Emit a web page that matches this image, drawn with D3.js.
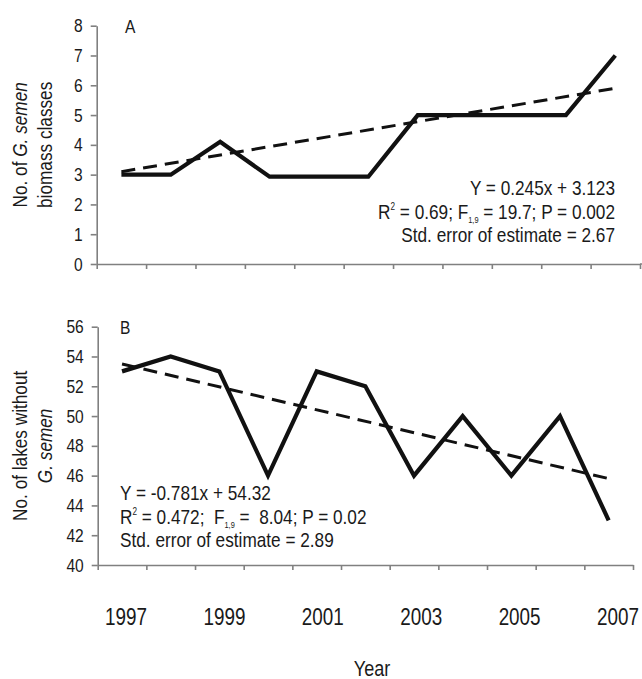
<!DOCTYPE html>
<html>
<head>
<meta charset="utf-8">
<script src="https://cdn.jsdelivr.net/npm/d3@7"></script>
<style>
  html, body { margin: 0; padding: 0; background: #fff; }
  svg { display: block; }
  text { font-family: 'Liberation Sans', Arial, sans-serif; fill: #1a1a1a; white-space: pre; }
</style>
</head>
<body>
<svg id="chart" width="642" height="679"></svg>
<script>
// ---------- data ----------
const years = [1997, 1998, 1999, 2000, 2001, 2002, 2003, 2004, 2005, 2006, 2007];
const biomassClasses = [3, 3, 4.1, 2.93, 2.93, 2.93, 5, 5, 5, 5, 7];
const biomassTrend = [3.1, 5.9];          // fitted values at 1997 and 2007
const lakesWithout = [53, 54, 53, 46, 53, 52, 46, 50, 46, 50, 43];
const lakesTrend = [53.5, 45.8];          // fitted values at 1997 and 2007
const yTicksA = [0, 1, 2, 3, 4, 5, 6, 7, 8];
const yTicksB = [40, 42, 44, 46, 48, 50, 52, 54, 56];
const yearLabels = [1997, 1999, 2001, 2003, 2005, 2007];
const statsA = ["Y = 0.245x + 3.123", "R2 = 0.69; F1,9 = 19.7; P = 0.002", "Std. error of estimate = 2.67"];
const statsB = ["Y = -0.781x + 54.32", "R2 = 0.472;  F1,9 =  8.04; P = 0.02", "Std. error of estimate = 2.89"];

const NARROW = 0.82;   // condensed look (Arial Narrow-like)
const svg = d3.select("#chart");
const AXIS = "#808080";

// text placed in a horizontally-condensed group
function narrowText(parent, x, y, extra) {
  return parent.append("g")
    .attr("transform", `translate(${x},${y})${extra || ""} scale(${NARROW},1)`)
    .append("text");
}

function styleAxis(g) {
  g.select(".domain").attr("stroke", AXIS).attr("stroke-width", 1.6);
  g.selectAll(".tick line").attr("stroke", AXIS).attr("stroke-width", 1.6);
  g.selectAll(".tick text").attr("font-size", 19).attr("fill", "#1a1a1a")
    .attr("font-family", "'Liberation Sans', Arial, sans-serif")
    .each(function () {
      const t = d3.select(this);
      const x = +t.attr("x") || 0;
      t.attr("x", x / NARROW).attr("transform", `scale(${NARROW},1)`);
    });
}

function panel(cfg) {
  const x = d3.scalePoint().domain(years).range([cfg.x0, cfg.x1]).padding(0.5);
  const xEdge = d3.scaleLinear().domain([0, years.length]).range([cfg.x0, cfg.x1]);
  const y = d3.scaleLinear().domain(cfg.yDomain).range([cfg.yBottom, cfg.yTop]);
  const g = svg.append("g");

  // x axis (category boundaries)
  g.append("g").attr("transform", `translate(0,${cfg.yBottom})`)
    .call(d3.axisBottom(xEdge).tickValues(d3.range(years.length + 1)).tickFormat("").tickSize(5).tickSizeOuter(0))
    .call(styleAxis);
  if (cfg.axisExtend) {
    g.append("line").attr("x1", cfg.x1).attr("x2", cfg.axisExtend)
      .attr("y1", cfg.yBottom).attr("y2", cfg.yBottom)
      .attr("stroke", AXIS).attr("stroke-width", 1.6);
  }
  // y axis
  g.append("g").attr("transform", `translate(${cfg.x0},0)`)
    .call(d3.axisLeft(y).tickValues(cfg.yTicks).tickSize(6).tickPadding(8).tickSizeOuter(0))
    .call(styleAxis);

  // trend line (dashed)
  const trendX = [years[0], years[years.length - 1]];
  g.append("path")
    .datum(trendX.map((yr, i) => [yr, cfg.trend[i]]))
    .attr("fill", "none").attr("stroke", "#111").attr("stroke-width", 3)
    .attr("stroke-dasharray", "14,8")
    .attr("d", d3.line().x(d => x(d[0])).y(d => y(d[1])));

  // data line (solid)
  g.append("path")
    .datum(years.map((yr, i) => [yr, cfg.values[i]]))
    .attr("fill", "none").attr("stroke", "#111").attr("stroke-width", 4.2)
    .attr("stroke-linejoin", "miter")
    .attr("d", d3.line().x(d => x(d[0])).y(d => y(d[1])));

  // panel letter
  narrowText(g, cfg.letterX, cfg.yTop + 7).attr("font-size", 19).text(cfg.letter);

  // y title
  const cy = (cfg.yTop + cfg.yBottom) / 2;
  const t = narrowText(g, 27, cy, " rotate(-90)").attr("text-anchor", "middle").attr("font-size", 21);
  cfg.title1(t);
  const t2 = narrowText(g, 52, cy, " rotate(-90)").attr("text-anchor", "middle").attr("font-size", 21);
  cfg.title2(t2);

  // stats
  cfg.stats.forEach((s, i) => {
    const txt = narrowText(g, cfg.statsX, cfg.statsY + i * 23.5)
      .attr("text-anchor", cfg.statsAnchor).attr("font-size", 21);
    if (i === 1) {
      const m = s.match(/^R2(.*?)F1,9(.*)$/);
      txt.append("tspan").text("R");
      txt.append("tspan").attr("font-size", 10).attr("dy", -9).text("2");
      txt.append("tspan").attr("dy", 9).text(m[1] + "F");
      txt.append("tspan").attr("font-size", 9).attr("dy", 4).text("1,9");
      txt.append("tspan").attr("dy", -4).text(m[2]);
    } else {
      txt.text(s);
    }
  });
  return x;
}

panel({
  x0: 96.7, x1: 640, axisExtend: 642, yBottom: 264, yTop: 25.7,
  yDomain: [0, 8], yTicks: yTicksA, values: biomassClasses, trend: biomassTrend,
  letter: "A", letterX: 125,
  title1: t => { t.append("tspan").text("No. of "); t.append("tspan").attr("font-style", "italic").text("G. semen"); },
  title2: t => { t.text("biomass classes"); },
  stats: statsA, statsX: 615, statsY: 195, statsAnchor: "end"
});

panel({
  x0: 97.7, x1: 633, axisExtend: 0, yBottom: 565, yTop: 326.7,
  yDomain: [40, 56], yTicks: yTicksB, values: lakesWithout, trend: lakesTrend,
  letter: "B", letterX: 120,
  title1: t => { t.text("No. of lakes without"); },
  title2: t => { t.attr("font-style", "italic").text("G. semen"); },
  stats: statsB, statsX: 120, statsY: 500, statsAnchor: "start"
});

// year labels row
const xLab = d3.scaleLinear().domain([1997, 2007]).range([126, 618]);
const labG = svg.append("g");
yearLabels.forEach(d => {
  narrowText(labG, xLab(d), 625).attr("text-anchor", "middle").attr("font-size", 23).text(d);
});

narrowText(svg, 372, 676).attr("text-anchor", "middle").attr("font-size", 22).text("Year");
</script>
</body>
</html>
